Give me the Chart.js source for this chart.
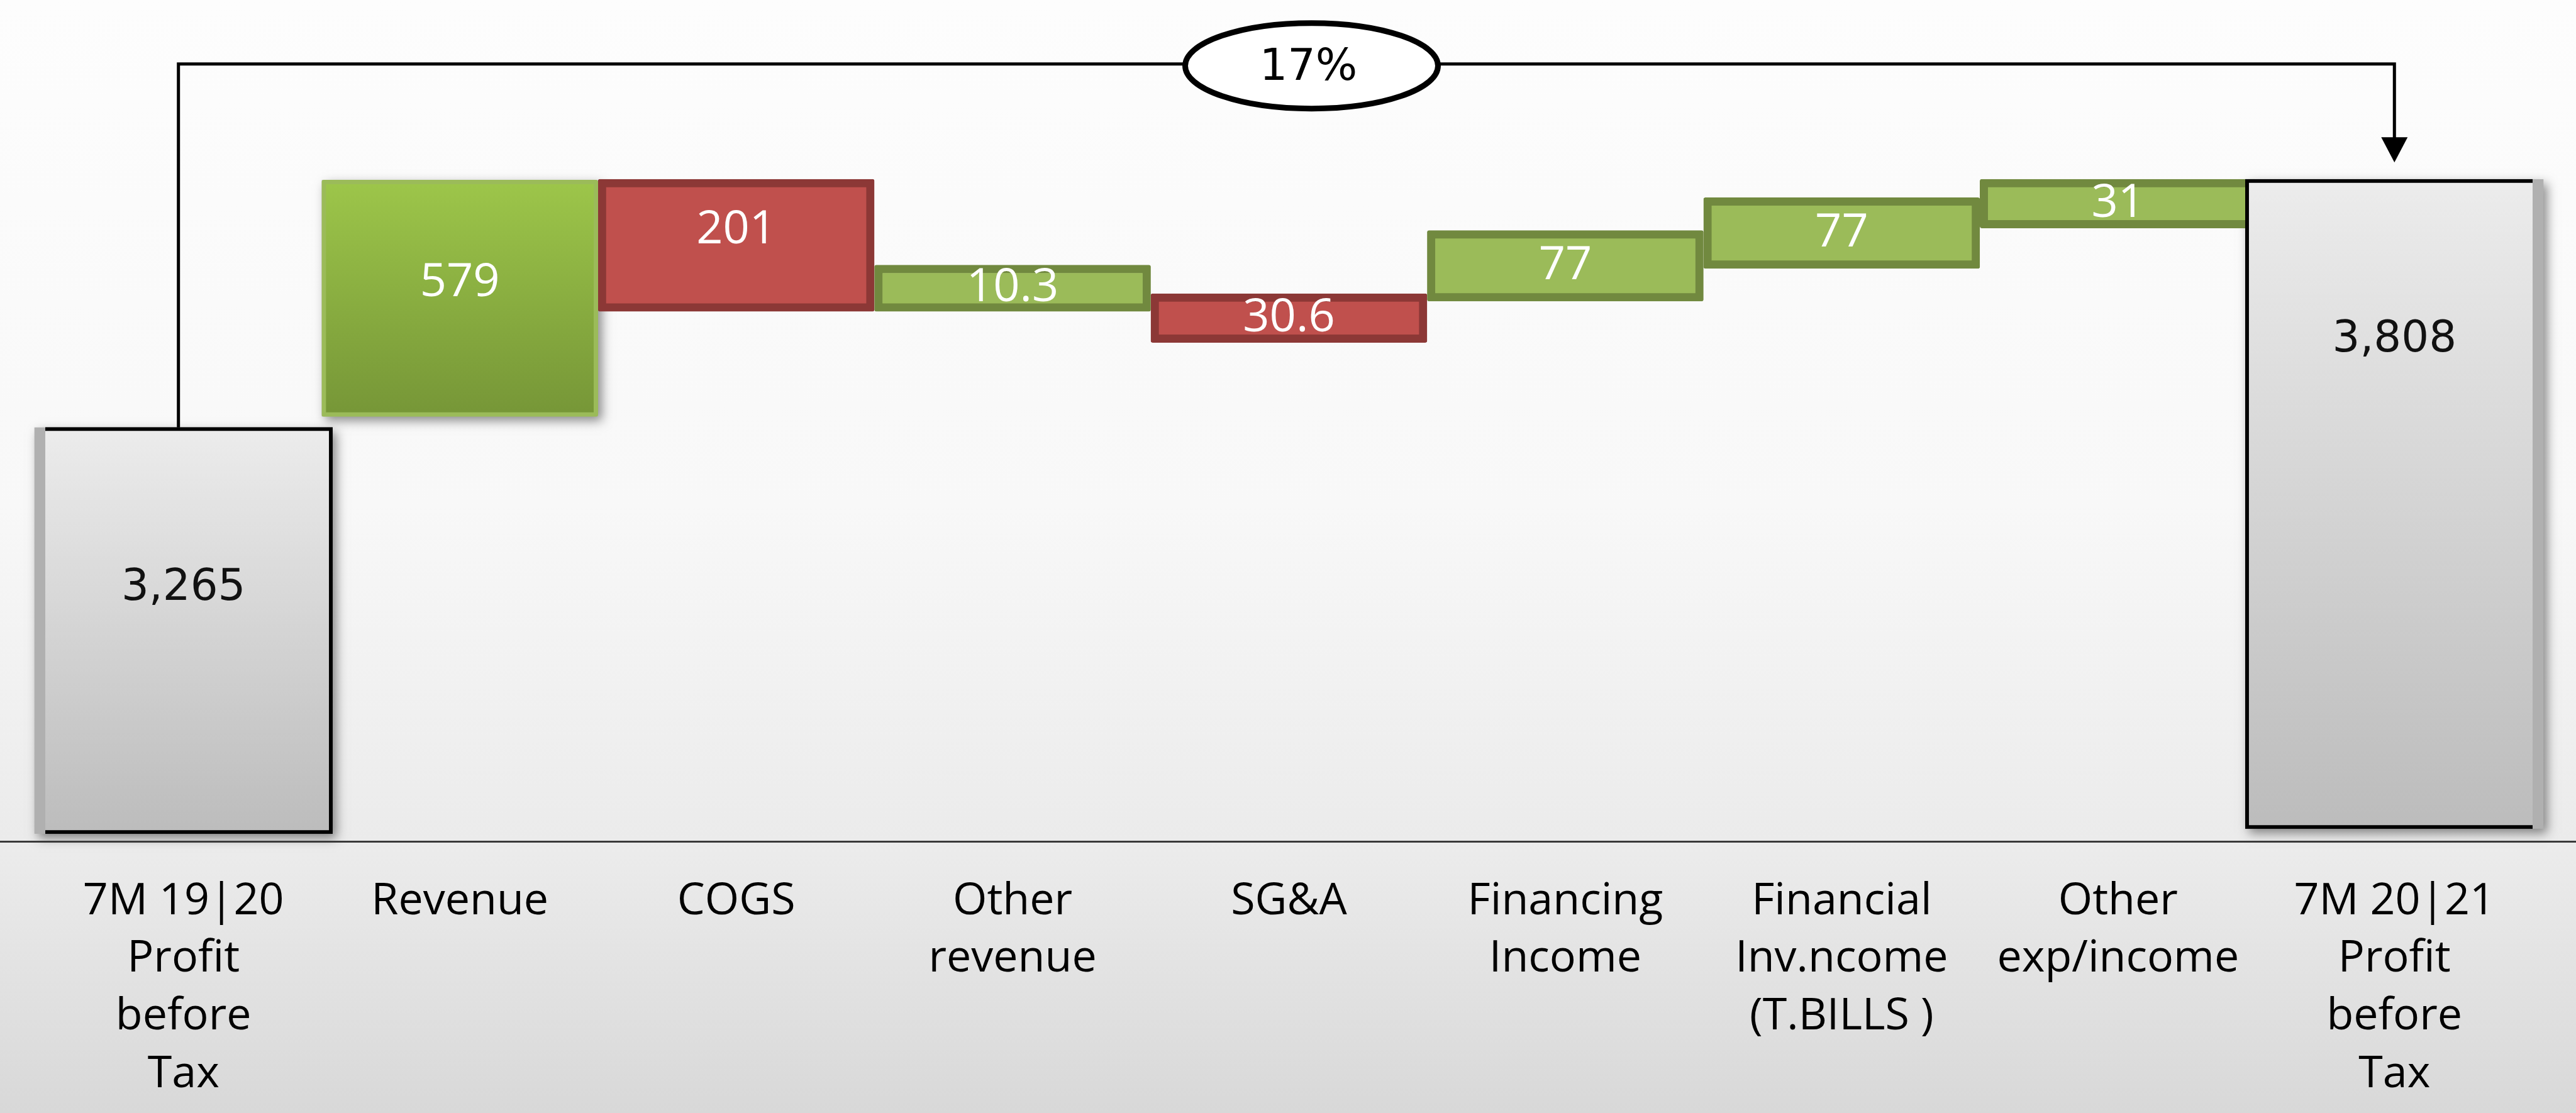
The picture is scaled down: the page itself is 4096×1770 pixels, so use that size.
<!DOCTYPE html>
<html>
<head>
<meta charset="utf-8">
<script src="https://cdn.jsdelivr.net/npm/chart.js@4.4.1/dist/chart.umd.min.js"></script>
<style>
  html, body { margin: 0; padding: 0; background: #ffffff; }
  #wrap { width: 4096px; height: 1770px; }
</style>
</head>
<body>
<div id="wrap"><canvas id="chart"></canvas></div>
<script>
const categories = [
    ['7M 19|20', 'Profit', 'before', 'Tax'],
    'Revenue',
    'COGS',
    ['Other', 'revenue'],
    'SG&A',
    ['Financing', 'Income'],
    ['Financial', 'Inv.ncome', '(T.BILLS )'],
    ['Other', 'exp/income'],
    ['7M 20|21', 'Profit', 'before', 'Tax']
];
const valueLabels = ['3,265', '579', '201', '10.3', '30.6', '77', '77', '31', '3,808'];
const barType = ['total', 'up', 'down', 'up', 'down', 'up', 'up', 'up', 'total'];
// bars are not drawn to scale in the source, so these are read off the picture (0-100 of plot height)
const barLow = [0.9, 50.5, 63.0, 63.0, 59.3, 64.2, 68.1, 72.9, 1.5];
const barHigh = [49.2, 78.6, 78.7, 68.5, 65.1, 72.6, 76.5, 78.7, 78.7];
const changeLabel = '17%';
const bridgeLevel = 92.4;
const arrowTip = 80.7;

const featured = categories.indexOf('Revenue');

function pick(type) {
    return barType.map(function (t, i) {
        return t === type ? [barLow[i], barHigh[i]] : null;
    });
}

function barGradient(c, top, bottom, fallback) {
    if (!c.chart.chartArea || !c.raw) return fallback;
    var y = c.chart.scales.y;
    var g = c.chart.ctx.createLinearGradient(0, y.getPixelForValue(c.raw[1]), 0, y.getPixelForValue(c.raw[0]));
    g.addColorStop(0, top);
    g.addColorStop(1, bottom);
    return g;
}

const backdrop = {
    id: 'backdrop',
    beforeDraw: function (chart) {
        var ctx = chart.ctx;
        var axisY = chart.chartArea.bottom;
        var g = ctx.createLinearGradient(0, 0, 0, axisY);
        g.addColorStop(0, '#fdfdfd');
        g.addColorStop(0.6, '#f8f8f8');
        g.addColorStop(1, '#ebebeb');
        ctx.fillStyle = g;
        ctx.fillRect(0, 0, chart.width, axisY);
        var g2 = ctx.createLinearGradient(0, axisY, 0, chart.height);
        g2.addColorStop(0, '#ececec');
        g2.addColorStop(1, '#d8d8d8');
        ctx.fillStyle = g2;
        ctx.fillRect(0, axisY, chart.width, chart.height - axisY);
    },
    beforeDatasetsDraw: function (chart) {
        var ctx = chart.ctx;
        ctx.save();
        ctx.shadowColor = 'rgba(0,0,0,0.45)';
        ctx.shadowBlur = 16;
        ctx.shadowOffsetX = 6;
        ctx.shadowOffsetY = 7;
        ctx.fillStyle = '#b0b0b0';
        chart.data.datasets.forEach(function (ds, d) {
            chart.getDatasetMeta(d).data.forEach(function (bar, i) {
                if (!ds.data[i]) return;
                if (barType[i] !== 'total' && i !== featured) return;
                var p = bar.getProps(['x', 'y', 'base', 'width'], true);
                ctx.fillRect(p.x - p.width / 2, p.y, p.width, p.base - p.y);
            });
        });
        ctx.restore();
    },
    afterDatasetsDraw: function (chart) {
        var ctx = chart.ctx;
        var y = chart.scales.y;
        var axisY = chart.chartArea.bottom;

        ctx.save();
        ctx.fillStyle = '#3a3a3a';
        ctx.fillRect(0, axisY - 1, chart.width, 3);

        // value labels
        ctx.textAlign = 'center';
        ctx.textBaseline = 'middle';
        chart.data.datasets.forEach(function (ds, d) {
            chart.getDatasetMeta(d).data.forEach(function (bar, i) {
                if (!ds.data[i]) return;
                var p = bar.getProps(['x', 'y', 'base'], true);
                var h = p.base - p.y;
                if (barType[i] === 'total') {
                    ctx.font = '69px "DejaVu Sans"';
                    ctx.fillStyle = '#111111';
                    ctx.fillText(valueLabels[i], p.x, p.y + 256);
                } else {
                    ctx.font = '74px "Open Sans"';
                    ctx.fillStyle = '#ffffff';
                    ctx.fillText(valueLabels[i], p.x, p.y + h / 2 - (h > 150 ? 24 : 0));
                }
            });
        });

        // bridge line with arrow and growth ellipse
        var first = chart.getDatasetMeta(0).data[0].getProps(['x', 'y'], true);
        var last = chart.getDatasetMeta(0).data[barType.length - 1].getProps(['x', 'y'], true);
        var topY = y.getPixelForValue(bridgeLevel);
        var tipY = y.getPixelForValue(arrowTip);
        ctx.strokeStyle = '#000000';
        ctx.lineWidth = 5;
        ctx.beginPath();
        ctx.moveTo(first.x - 8, first.y);
        ctx.lineTo(first.x - 8, topY);
        ctx.lineTo(last.x, topY);
        ctx.lineTo(last.x, tipY - 30);
        ctx.stroke();
        ctx.fillStyle = '#000000';
        ctx.beginPath();
        ctx.moveTo(last.x - 21, tipY - 40);
        ctx.lineTo(last.x + 21, tipY - 40);
        ctx.lineTo(last.x, tipY);
        ctx.closePath();
        ctx.fill();

        var cx = (first.x + last.x) / 2 + 36;
        ctx.beginPath();
        ctx.ellipse(cx, topY + 3, 201, 68, 0, 0, Math.PI * 2);
        ctx.fillStyle = '#ffffff';
        ctx.fill();
        ctx.lineWidth = 9;
        ctx.stroke();
        ctx.fillStyle = '#000000';
        ctx.font = '70px "DejaVu Sans"';
        ctx.fillText(changeLabel, cx - 5, topY + 7);
        ctx.restore();
    }
};

const chartData = {
    labels: categories,
    datasets: [{
        label: 'Total',
        data: pick('total'),
        grouped: false,
        barThickness: 474,
        borderWidth: 6,
        borderColor: '#000000',
        borderSkipped: false,
        backgroundColor: function (c) {
            return barGradient(c, '#ececec', '#bcbcbc', '#d4d4d4');
        }
    }, {
        label: 'Increase',
        data: pick('up'),
        grouped: false,
        barThickness: 439,
        borderRadius: 3,
        borderSkipped: false,
        borderWidth: function (c) { return c.dataIndex === featured ? 7 : 13; },
        borderColor: function (c) { return c.dataIndex === featured ? '#9bbb59' : '#71893f'; },
        backgroundColor: function (c) {
            if (c.dataIndex === featured) return barGradient(c, '#9dc64a', '#769637', '#8aae42');
            return '#9bbb59';
        }
    }, {
        label: 'Decrease',
        data: pick('down'),
        grouped: false,
        barThickness: 439,
        borderRadius: 3,
        borderSkipped: false,
        borderWidth: 13,
        borderColor: '#8c3836',
        backgroundColor: '#c0504d'
    }]
};

const config = {
    type: 'bar',
    data: chartData,
    options: {
        responsive: true,
        maintainAspectRatio: false,
        animation: false,
        layout: { padding: { left: 72, right: 69, top: 0, bottom: 0 } },
        plugins: {
            legend: { display: false },
            tooltip: { enabled: false }
        },
        scales: {
            x: {
                grid: { display: false },
                border: { display: false },
                ticks: {
                    color: '#000000',
                    font: { family: 'Open Sans', size: 70, lineHeight: 1.31 },
                    padding: 42,
                    maxRotation: 0,
                    autoSkip: false
                },
                afterFit: function (scale) { scale.height = 432; }
            },
            y: {
                display: false,
                min: 0,
                max: 100
            }
        }
    },
    plugins: [backdrop]
};

var chart = new Chart(document.getElementById('chart'), config);
</script>
</body>
</html>
